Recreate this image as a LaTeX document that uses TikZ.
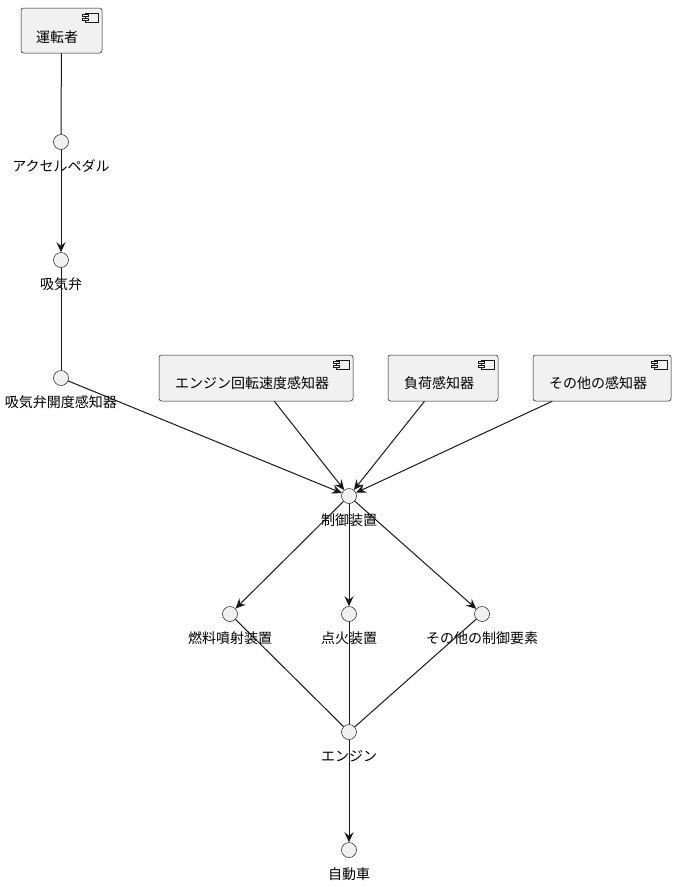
\documentclass[tikz,border=0pt]{standalone}
\usepackage{fontspec}
\setmainfont{Noto Sans CJK JP}
\usetikzlibrary{positioning,arrows.meta}
\definecolor{UMLline}{HTML}{181818}
\definecolor{UMLfill}{HTML}{F1F1F1}

\tikzset{
  comp/.style={draw=UMLline, fill=UMLfill, line width=0.5pt, rounded corners=2.5pt, inner sep=0pt, minimum height=46pt},
  iface/.style={circle, draw=UMLline, fill=UMLfill, line width=0.5pt, minimum size=15pt, inner sep=0pt},
  lbl/.style={font=\fontsize{14}{16}\selectfont, inner sep=0pt},
  conn/.style={UMLline, line width=1pt},
  flow/.style={conn, -{Stealth[length=10pt,width=9pt,inset=3.5pt]}},
}

\newcommand{\compicon}[1]{%
  \draw[UMLline, line width=0.5pt, fill=UMLfill] ([xshift=-17pt,yshift=-5pt]#1.north east) rectangle ([xshift=-4pt,yshift=-14pt]#1.north east);
  \draw[UMLline, line width=0.5pt, fill=UMLfill] ([xshift=-20pt,yshift=-6.5pt]#1.north east) rectangle ([xshift=-14pt,yshift=-8.5pt]#1.north east);
  \draw[UMLline, line width=0.5pt, fill=UMLfill] ([xshift=-20pt,yshift=-10.5pt]#1.north east) rectangle ([xshift=-14pt,yshift=-12.5pt]#1.north east);
}

\begin{document}
\begin{tikzpicture}[x=1pt, y=-1pt]
    \useasboundingbox (0,0) rectangle (676,887);

    \node[lbl] (pedal-l)     at (61,166.5)  {アクセルペダル};
    \node[lbl] (valve-l)     at (61,284.5)  {吸気弁};
    \node[lbl] (valvesens-l) at (61,402.5)  {吸気弁開度感知器};
    \node[lbl] (ecu-l)       at (349,520.5) {制御装置};
    \node[lbl] (fuel-l)      at (230,638.5) {燃料噴射装置};
    \node[lbl] (ign-l)       at (349,638.5) {点火装置};
    \node[lbl] (othctl-l)    at (482,638.5) {その他の制御要素};
    \node[lbl] (engine-l)    at (349,756.5) {エンジン};
    \node[lbl] (car-l)       at (349,874.5) {自動車};

    \node[iface] (pedal)     at (61,142)  {};
    \node[iface] (valve)     at (61,260)  {};
    \node[iface] (valvesens) at (61,378)  {};
    \node[iface] (ecu)       at (349,496) {};
    \node[iface] (fuel)      at (230,614) {};
    \node[iface] (ign)       at (349,614) {};
    \node[iface] (othctl)    at (482,614) {};
    \node[iface] (engine)    at (349,732) {};
    \node[iface] (car)       at (349,850) {};

    \node[comp, minimum width=81pt, minimum height=45pt] (driver)  at (61.5,30.5) {};
    \node[comp, minimum width=194pt] (rpmsens)  at (256,378) {};
    \node[comp, minimum width=110pt] (loadsens) at (443,378) {};
    \node[comp, minimum width=138pt] (othsens)  at (602,378) {};

    \node[lbl] (driver-t)   at ([xshift=-4.5pt,yshift=-6.5pt]driver.center)  {運転者};
    \node[lbl] (rpmsens-t)  at ([xshift=-4pt,yshift=-5.5pt]rpmsens.center)   {エンジン回転速度感知器};
    \node[lbl] (loadsens-t) at ([xshift=-4pt,yshift=-5.5pt]loadsens.center)  {負荷感知器};
    \node[lbl] (othsens-t)  at ([xshift=-4pt,yshift=-5.5pt]othsens.center)   {その他の感知器};

    \compicon{driver}
    \compicon{rpmsens}
    \compicon{loadsens}
    \compicon{othsens}

    \draw[conn] (driver) -- (pedal);
    \draw[flow] (pedal) -- (valve);
    \draw[conn] (valve) -- (valvesens);
    \draw[flow] (valvesens) -- (ecu);
    \draw[flow] (rpmsens) -- (ecu);
    \draw[flow] (loadsens) -- (ecu);
    \draw[flow] (othsens) -- (ecu);
    \draw[flow] (ecu) -- (fuel);
    \draw[flow] (ecu) -- (ign);
    \draw[flow] (ecu) -- (othctl);
    \draw[conn] (fuel) -- (engine);
    \draw[conn] (ign) -- (engine);
    \draw[conn] (othctl) -- (engine);
    \draw[flow] (engine) -- (car);
\end{tikzpicture}
\end{document}
